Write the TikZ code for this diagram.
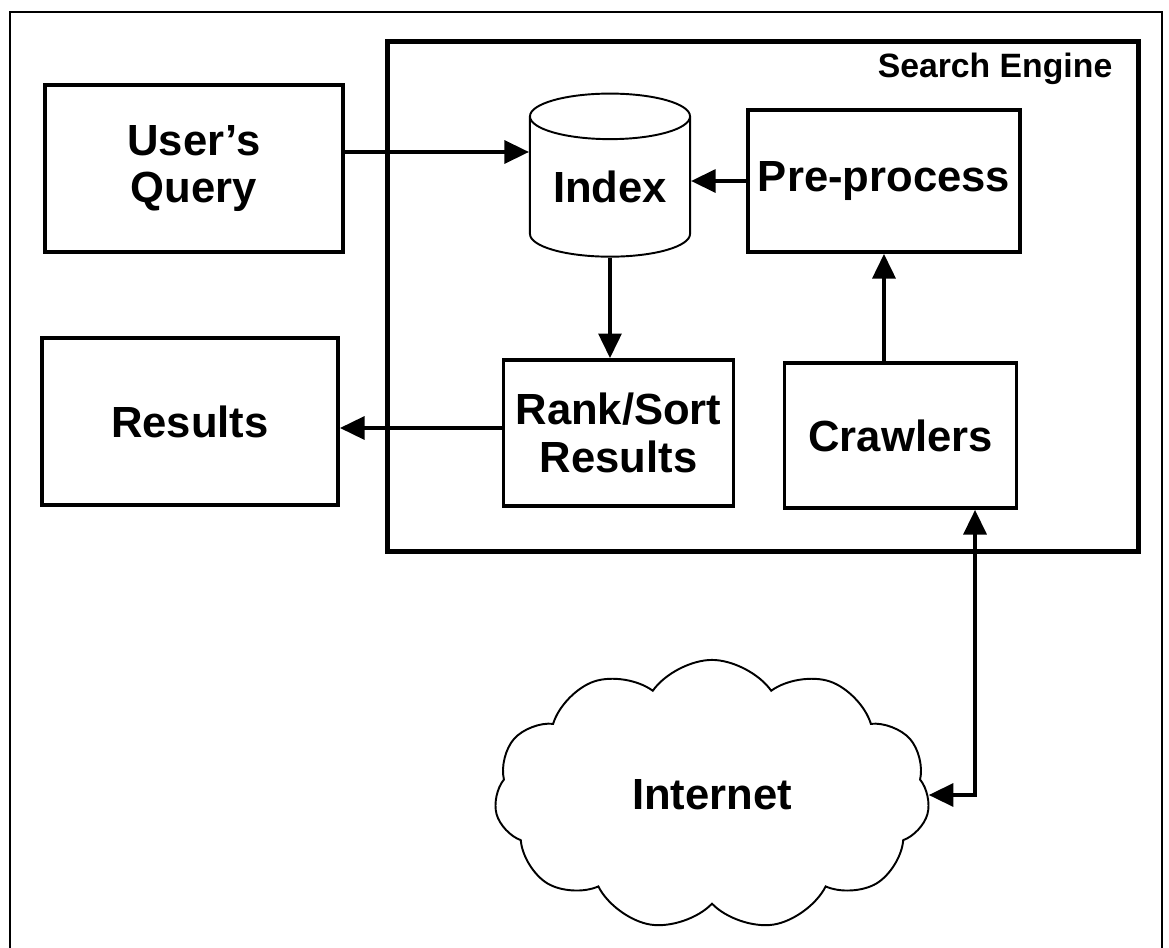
\documentclass[tikz,border=0pt]{standalone}
\usepackage{fontspec}
\setmainfont{Liberation Sans}
\usetikzlibrary{arrows.meta,shapes.geometric,shapes.symbols}

\tikzset{
	>={Triangle[length=7pt,width=6.5pt]},
	blk/.style={draw, line width=1.05pt, align=center, inner sep=0pt,
		font=\fontsize{12.4}{13.5}\selectfont\bfseries},
	arr/.style={line width=1.05pt, ->},
	twoway/.style={line width=1.05pt, <->},
}

\begin{document}
\begin{tikzpicture}[x=0.01cm, y=-0.01cm]
	\useasboundingbox (0,0) rectangle (1169,948);
	% page frame, open at the bottom
	\draw[line width=0.45pt] (10,948) -- (10,12) -- (1162,12) -- (1162,948);
	
	\node[draw, line width=1.35pt, minimum width=7.5cm, minimum height=5.09cm] (engine) at (763,296.5) {};
	\node[anchor=base east, inner sep=0pt, font=\fontsize{9.6}{11}\selectfont\bfseries] (enginelbl) at (1113,77) {Search Engine};
	
	\node[blk, minimum width=2.98cm, minimum height=1.67cm] (query) at (194,168.5) {User’s\\Query};
	\node[blk, minimum width=2.96cm, minimum height=1.67cm] (results) at (190,421.5) {Results};
	\node[blk, cylinder, shape border rotate=90, aspect=0.4, line width=0.55pt,
		minimum width=1.6cm, minimum height=1.63cm] (index) at (610,187) {Index};
	\node[blk, minimum width=2.72cm, minimum height=1.42cm] (pre) at (884,181) {Pre-process};
	\node[blk, minimum width=2.3cm, minimum height=1.46cm] (rank) at (618.5,433) {Rank/Sort\\Results};
	\node[blk, minimum width=2.32cm, minimum height=1.45cm] (crawl) at (900.5,435.5) {Crawlers};
	\node[blk, cloud, cloud puffs=11, cloud puff arc=110, aspect=1.6, line width=0.55pt,
		minimum width=4.35cm, minimum height=2.7cm] (net) at (712,795) {Internet};
	
	\path ([yshift=1.65mm]query.east) coordinate (qa);
	\path ([yshift=0.5mm]rank.west) coordinate (ra);
	\path ([xshift=7.45mm]crawl.south) coordinate (ca);
	
	\draw[arr] (qa) -- (qa -| index.west);
	\draw[arr] (pre.west) -- (pre.west -| index.east);
	\draw[arr] (index.south) -- (index.south |- rank.north);
	\draw[arr] (ra) -- (ra -| results.east);
	\draw[arr] (crawl.north -| pre.south) -- (pre.south);
	\draw[twoway] (net.east) -| (ca);
\end{tikzpicture}
\end{document}
